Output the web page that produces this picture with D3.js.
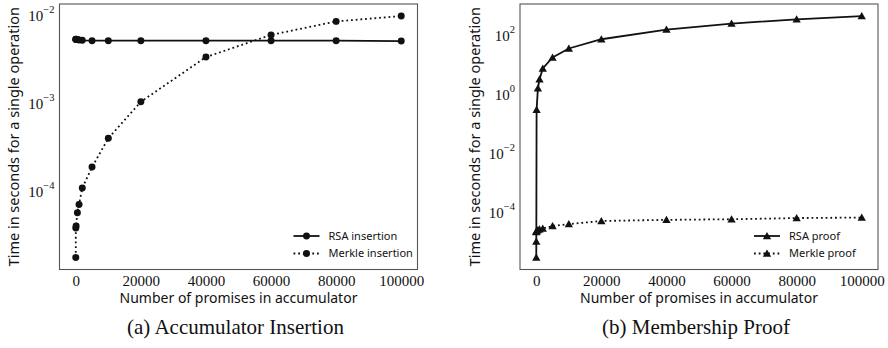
<!DOCTYPE html>
<html>
<head>
<meta charset="utf-8">
<script src="https://cdn.jsdelivr.net/npm/d3@7"></script>
<style>
  html, body { margin: 0; padding: 0; background: #fff; }
  svg { display: block; }
</style>
</head>
<body>
<svg id="chart" width="888" height="348"></svg>
<script>
// Number of promises already stored in the accumulator
const promises = [1, 10, 100, 500, 1000, 2000, 5000, 10000, 20000, 40000, 60000, 80000, 100000];

// (a) seconds per insertion
const rsaInsertion    = [5.4e-3, 5.45e-3, 5.45e-3, 5.4e-3, 5.35e-3, 5.3e-3, 5.25e-3, 5.25e-3, 5.25e-3, 5.25e-3, 5.25e-3, 5.25e-3, 5.2e-3];
const merkleInsertion = [1.8e-5, 3.9e-5, 4.1e-5, 5.8e-5, 7.2e-5, 1.11e-4, 1.92e-4, 4.07e-4, 1.06e-3, 3.42e-3, 6.1e-3, 8.7e-3, 1.0e-2];

// (b) seconds per membership proof
const rsaProof    = [3.2e-6, 1.1e-5, 0.32, 1.73, 3.47, 8.1, 19, 38.5, 79, 168, 268, 374, 482];
const merkleProof = [2.3e-5, 2.4e-5, 2.5e-5, 2.7e-5, 2.9e-5, 3.05e-5, 3.7e-5, 4.3e-5, 5.5e-5, 6.0e-5, 6.3e-5, 6.9e-5, 7.2e-5];

const xTicks = [0, 20000, 40000, 60000, 80000, 100000];
const yTicksA = [-4, -3, -2];
const yTicksB = [-4, -2, 0, 2];

const xLabel = "Number of promises in accumulator";
const yLabel = "Time in seconds for a single operation";

const panels = [
  {
    left: 59.5, right: 417.5,
    series: [
      { name: "RSA insertion", values: rsaInsertion, dotted: false },
      { name: "Merkle insertion", values: merkleInsertion, dotted: true }
    ],
    marker: "circle", yTicks: yTicksA,
    caption: "(a) Accumulator Insertion"
  },
  {
    left: 520, right: 878,
    series: [
      { name: "RSA proof", values: rsaProof, dotted: false },
      { name: "Merkle proof", values: merkleProof, dotted: true }
    ],
    marker: "triangle", yTicks: yTicksB,
    caption: "(b) Membership Proof"
  }
];

const plotTop = 4, plotBottom = 269.5;
const svg = d3.select("#chart");
const serif = "'Liberation Serif', 'DejaVu Serif', serif";
const sans = "'Noto Sans', 'DejaVu Sans', sans-serif";
const ink = "#111";

function markerPath(kind) {
  return d3.symbol()
    .type(kind === "circle" ? d3.symbolCircle : d3.symbolTriangle)
    .size(kind === "circle" ? 38 : 30)();
}

panels.forEach(p => {
  const g = svg.append("g");

  // x: linear with 5% margins on each side
  const xMax = d3.max(promises);
  const xPad = 0.05 * xMax;
  const x = d3.scaleLinear().domain([-xPad, xMax + xPad]).range([p.left, p.right]);

  // y: log with 5% margins in decades
  const all = p.series.flatMap(s => s.values);
  const lo = Math.log10(d3.min(all)), hi = Math.log10(d3.max(all));
  const pad = 0.05 * (hi - lo);
  const y = d3.scaleLog().domain([Math.pow(10, lo - pad), Math.pow(10, hi + pad)]).range([plotBottom, plotTop]);

  // x axis labels
  const xAxis = g.append("g")
    .attr("transform", `translate(0,${plotBottom})`)
    .call(d3.axisBottom(x).tickValues(xTicks).tickSize(0).tickPadding(4).tickFormat(d3.format("d")));
  xAxis.select(".domain").remove();
  xAxis.selectAll("text")
    .attr("font-family", serif).attr("font-size", 15).attr("fill", ink).attr("dy", "0.85em");

  // y axis labels as powers of ten
  const yAxis = g.append("g")
    .attr("transform", `translate(${p.left},0)`)
    .call(d3.axisLeft(y).tickValues(p.yTicks.map(e => Math.pow(10, e))).tickSize(0).tickPadding(5).tickFormat(() => ""));
  yAxis.select(".domain").remove();
  yAxis.selectAll(".tick text").each(function(d) {
    const t = d3.select(this)
      .attr("font-family", serif).attr("fill", ink).attr("dy", "0.45em");
    const e = Math.round(Math.log10(d));
    t.append("tspan").attr("font-size", 15).text("10");
    t.append("tspan").attr("font-size", 10.5).attr("dy", "-0.75em")
      .text(e < 0 ? "\u2212" + (-e) : String(e));
  });

  // series lines and markers
  const line = d3.line().x((d, i) => x(promises[i])).y(d => y(d));
  const dy = p.marker === "triangle" ? 0.8 : 0;
  p.series.forEach(s => {
    g.append("path")
      .datum(s.values)
      .attr("d", line)
      .attr("fill", "none")
      .attr("stroke", ink)
      .attr("stroke-width", 1.8)
      .attr("stroke-dasharray", s.dotted ? "1.8,2.9" : null);

    g.selectAll(null)
      .data(s.values)
      .join("path")
      .attr("d", markerPath(p.marker))
      .attr("transform", (d, i) => `translate(${x(promises[i])},${y(d) + dy})`)
      .attr("fill", ink);
  });

  // frame
  g.append("rect")
    .attr("x", p.left).attr("y", plotTop)
    .attr("width", p.right - p.left).attr("height", plotBottom - plotTop)
    .attr("fill", "none").attr("stroke", "#555").attr("stroke-width", 1.1);

  // legend (no frame)
  const lgX = p.right - 124;
  p.series.forEach((s, i) => {
    const ly = 236 + i * 17.5;
    g.append("line")
      .attr("x1", lgX).attr("x2", lgX + 26).attr("y1", ly).attr("y2", ly)
      .attr("stroke", ink).attr("stroke-width", 1.8)
      .attr("stroke-dasharray", s.dotted ? "1.8,2.9" : null);
    g.append("path").attr("d", markerPath(p.marker))
      .attr("transform", `translate(${lgX + 13},${ly + dy})`)
      .attr("fill", ink);
    g.append("text")
      .attr("x", lgX + 35).attr("y", ly).attr("dy", "0.35em")
      .attr("font-family", sans).attr("font-size", 11).attr("fill", ink)
      .text(s.name);
  });

  // axis titles
  const cx = (p.left + p.right) / 2;
  g.append("text")
    .attr("x", cx).attr("y", 298).attr("dy", "0.35em")
    .attr("text-anchor", "middle")
    .attr("font-family", sans).attr("font-size", 14).attr("fill", ink)
    .text(xLabel);
  g.append("text")
    .attr("transform", `translate(${p.left - 45.5},${(plotTop + plotBottom) / 2}) rotate(-90)`)
    .attr("dy", "0.35em")
    .attr("text-anchor", "middle")
    .attr("font-family", sans).attr("font-size", 14.5).attr("fill", ink)
    .text(yLabel);

  // caption
  g.append("text")
    .attr("x", cx - 3).attr("y", 327).attr("dy", "0.35em")
    .attr("text-anchor", "middle")
    .attr("font-family", serif).attr("font-size", 21).attr("fill", ink)
    .text(p.caption);
});
</script>
</body>
</html>
